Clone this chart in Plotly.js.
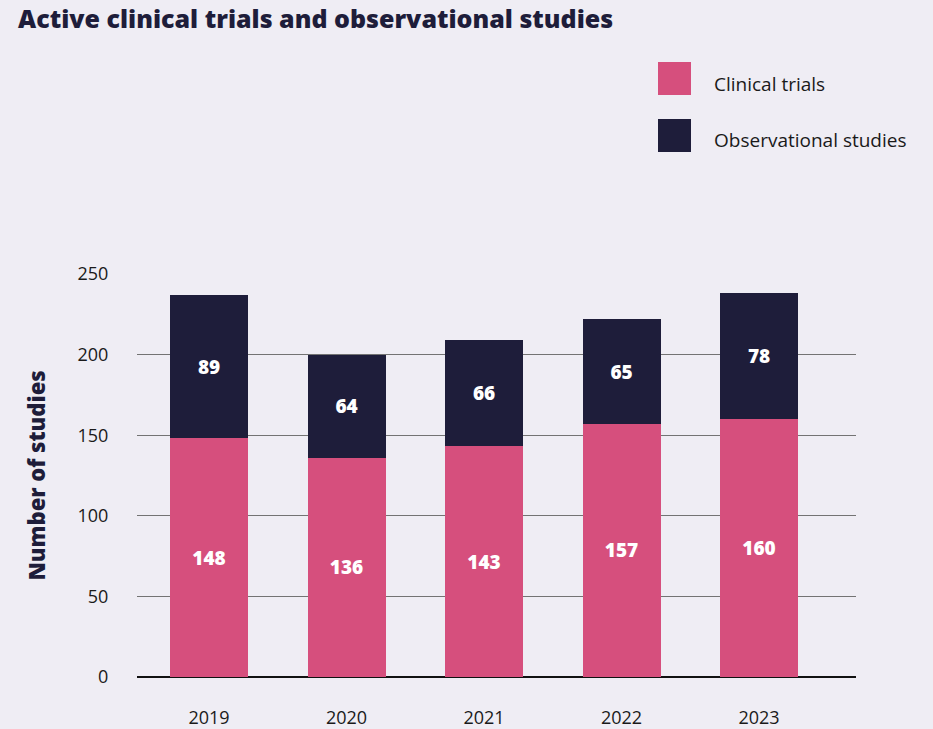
<!DOCTYPE html>
<html>
<head>
<meta charset="utf-8">
<script src="https://cdn.plot.ly/plotly-3.0.1.min.js"></script>
<style>html,body{margin:0;padding:0;background:#efedf4;}#chart{width:933px;height:729px;}</style>
</head>
<body>
<div id="chart"></div>
<script>
const years = ["2019", "2020", "2021", "2022", "2023"];
const clinicalTrials = [148, 136, 143, 157, 160];
const observationalStudies = [89, 64, 66, 65, 78];
const yTicks = [0, 50, 100, 150, 200, 250];
const seriesNames = ["Clinical trials", "Observational studies"];

const pink = "#d64f7d";
const navy = "#1e1d3a";
const fontFam = "'Open Sans', sans-serif";

const traces = [
  {
    type: "bar", x: years, y: clinicalTrials, name: seriesNames[0],
    marker: {color: pink}, width: 0.567,
    texttemplate: "%{y}", textposition: "inside", insidetextanchor: "middle",
    textfont: {color: "#ffffff", size: 19, family: fontFam, weight: 800},
    hoverinfo: "skip"
  },
  {
    type: "bar", x: years, y: observationalStudies, name: seriesNames[1],
    marker: {color: navy}, width: 0.567,
    texttemplate: "%{y}", textposition: "inside", insidetextanchor: "middle",
    textfont: {color: "#ffffff", size: 19, family: fontFam, weight: 800},
    hoverinfo: "skip"
  }
];

const layout = {
  width: 933, height: 729,
  paper_bgcolor: "#efedf4", plot_bgcolor: "#efedf4",
  barmode: "stack",
  showlegend: false,
  margin: {l: 137, r: 77, t: 274, b: 52},
  font: {family: fontFam, color: "#1a1a1a"},
  title: {
    text: "Active clinical trials and observational studies",
    x: 18 / 933, xanchor: "left", xref: "container",
    y: 1 - 19 / 729, yanchor: "middle", yref: "container",
    font: {size: 25, color: navy, family: fontFam, weight: 800}
  },
  xaxis: {
    type: "category", range: [-0.524, 4.705],
    showgrid: false, showline: false, zeroline: false,
    ticks: "outside", ticklen: 24, tickcolor: "rgba(0,0,0,0)",
    tickfont: {size: 18, color: "#1a1a1a", family: fontFam}
  },
  yaxis: {
    range: [0, 250], tickvals: yTicks,
    showgrid: true, gridcolor: "#737373", gridwidth: 1.4,
    zeroline: true, zerolinecolor: "#111111", zerolinewidth: 1.5,
    showline: false,
    ticks: "outside", ticklen: 24, tickcolor: "rgba(0,0,0,0)",
    tickfont: {size: 18, color: "#1a1a1a", family: fontFam},
    title: {text: "Number of studies", standoff: 25,
            font: {size: 22, color: navy, family: fontFam, weight: 800}}
  },
  shapes: [
    {type: "rect", xref: "paper", yref: "paper",
     x0: (658 - 137) / 719, x1: (691 - 137) / 719,
     y0: (677 - 95) / 403, y1: (677 - 62) / 403,
     fillcolor: pink, line: {width: 0}},
    {type: "rect", xref: "paper", yref: "paper",
     x0: (658 - 137) / 719, x1: (691 - 137) / 719,
     y0: (677 - 152) / 403, y1: (677 - 119) / 403,
     fillcolor: navy, line: {width: 0}}
  ],
  annotations: [
    {xref: "paper", yref: "paper", x: (712 - 137) / 719, y: (677 - 84) / 403,
     xanchor: "left", yanchor: "middle", showarrow: false, text: seriesNames[0],
     font: {size: 19, color: "#1a1a1a", family: fontFam}},
    {xref: "paper", yref: "paper", x: (712 - 137) / 719, y: (677 - 140) / 403,
     xanchor: "left", yanchor: "middle", showarrow: false, text: seriesNames[1],
     font: {size: 19, color: "#1a1a1a", family: fontFam}}
  ]
};

Plotly.newPlot("chart", traces, layout, {displayModeBar: false, staticPlot: true});
</script>
</body>
</html>
